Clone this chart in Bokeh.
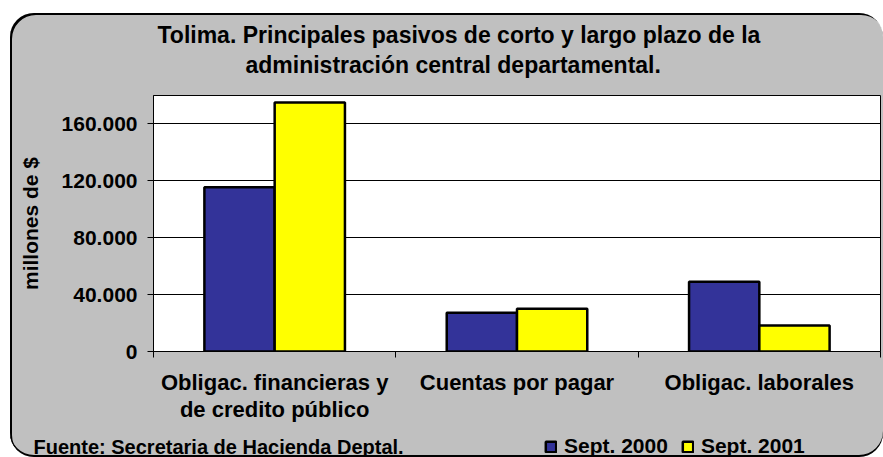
from bokeh.plotting import figure
from bokeh.models import (Range1d, FixedTicker, Title, Legend, LegendItem, Label,
                          ColumnDataSource)
from bokeh.transform import dodge
from bokeh.embed import file_html
from bokeh.resources import INLINE

# ---- data ----
categories = ["Obligac. financieras y\nde credito público", "Cuentas por pagar", "Obligac. laborales"]
series_names = ["Sept. 2000", "Sept. 2001"]
series_colors = ["#333399", "#ffff00"]
sept_2000 = [115500, 27300, 49000]
sept_2001 = [175000, 30100, 18200]
y_ticks = [0, 40000, 80000, 120000, 160000]
y_tick_labels = ["0", "40.000", "80.000", "120.000", "160.000"]
title_lines = ["Tolima.  Principales pasivos de corto y largo plazo de la",
               "administración central departamental."]
y_label = "millones de $"
source_note = "Fuente: Secretaria de Hacienda Deptal."

# ---- layout ----
FONT = "Liberation Sans"
W, H = 873, 444
FL, FR, FT, FB = 143, 870, 82, 338
GRAY = "#c0c0c0"

p = figure(width=W, height=H, output_backend="svg", toolbar_location=None, tools="",
           x_range=Range1d(0, len(categories)), y_range=Range1d(0, 180000),
           min_border_left=FL, min_border_right=W - FR, min_border_top=FT,
           min_border_bottom=H - FB, border_fill_color=None, border_fill_alpha=0,
           background_fill_color="white", outline_line_color="black",
           outline_line_width=1)
p.title.visible = False
p.styles = {"background-color": GRAY, "border-radius": "24px",
            "box-shadow": "inset 2px 2px 0 0 black, inset 0 -2px 0 0 black",
            "position": "relative", "left": "10px", "top": "13px"}

centers = [i + 0.5 for i in range(len(categories))]
src = ColumnDataSource(dict(x=centers, s2000=sept_2000, s2001=sept_2001))
bw = 0.29
r1 = p.vbar(x=dodge("x", -bw / 2, range=p.x_range), top="s2000", width=bw, source=src,
            fill_color=series_colors[0], line_color="black", line_width=2.5)
r2 = p.vbar(x=dodge("x", bw / 2, range=p.x_range), top="s2001", width=bw, source=src,
            fill_color=series_colors[1], line_color="black", line_width=2.5)

# x axis
xa = p.xaxis[0]
xa.ticker = FixedTicker(ticks=centers, minor_ticks=list(range(len(categories) + 1)))
xa.major_label_overrides = {c: lab for c, lab in zip(centers, categories)}
xa.major_tick_out = 0
xa.major_tick_in = 0
xa.minor_tick_out = 6
xa.minor_tick_in = 0
xa.minor_tick_line_color = "black"
xa.axis_line_color = "black"
xa.major_label_standoff = 12
xa.major_label_text_font = FONT
xa.major_label_text_font_size = "22px"
xa.major_label_text_font_style = "bold"
xa.major_label_text_color = "black"
xa.major_label_text_line_height = 1.11

# y axis
ya = p.yaxis[0]
ya.ticker = FixedTicker(ticks=y_ticks, minor_ticks=[])
ya.major_label_overrides = dict(zip(y_ticks, y_tick_labels))
ya.major_tick_out = 6
ya.major_tick_in = 0
ya.major_tick_line_color = "black"
ya.axis_line_color = "black"
ya.major_label_standoff = 10
ya.major_label_text_font = FONT
ya.major_label_text_font_size = "21px"
ya.major_label_text_font_style = "bold"
ya.major_label_text_color = "black"
ya.axis_label = y_label
ya.axis_label_standoff = 17
ya.axis_label_text_font = FONT
ya.axis_label_text_font_size = "21px"
ya.axis_label_text_font_style = "bold"
ya.axis_label_text_color = "black"

p.xgrid.visible = False
p.ygrid.ticker = FixedTicker(ticks=y_ticks, minor_ticks=[])
p.ygrid.grid_line_color = "black"
p.ygrid.grid_line_width = 1

# two-line title (second line nearest the plot)
t2 = Title(text=title_lines[1], align="left", offset=92, standoff=35,
           text_font=FONT, text_font_size="23px", text_font_style="bold", text_color="black")
t1 = Title(text=title_lines[0], align="left", offset=4, standoff=-30,
           text_font=FONT, text_font_size="23px", text_font_style="bold", text_color="black")
p.add_layout(t2, "above")
p.add_layout(t1, "above")

# bottom strip overlaid on the chart area: source note and legend
H2 = 36
q = figure(width=W, height=H2, output_backend="svg", toolbar_location=None, tools="",
           x_range=Range1d(0, W), y_range=Range1d(0, H2), min_border=0,
           x_axis_location=None, y_axis_location=None, border_fill_color=None,
           background_fill_color=None, outline_line_color=None)
q.title.visible = False
q.xgrid.visible = False
q.ygrid.visible = False
q.styles = {"position": "absolute", "left": "10px", "top": "421px"}
q.add_layout(Label(x=23, y=11, text=source_note, text_align="left",
                   text_baseline="middle", text_font=FONT, text_font_size="20px",
                   text_font_style="bold", text_color="black"))
nan = float("nan")
k1 = q.vbar(x=[nan], top=[nan], width=1, fill_color=series_colors[0], line_color="black",
            line_width=2.5)
k2 = q.vbar(x=[nan], top=[nan], width=1, fill_color=series_colors[1], line_color="black",
            line_width=2.5)
legend = Legend(items=[LegendItem(label=series_names[0], renderers=[k1]),
                       LegendItem(label=series_names[1], renderers=[k2])],
                orientation="horizontal", location=(534, -1),
                padding=0, margin=0, spacing=13, label_standoff=7,
                glyph_width=13, glyph_height=13, label_height=14,
                label_text_font=FONT, label_text_font_size="21px",
                label_text_font_style="bold", label_text_color="black",
                border_line_color=None, background_fill_alpha=0)
q.add_layout(legend)

open("out.html", "w").write(file_html([p, q], INLINE))
